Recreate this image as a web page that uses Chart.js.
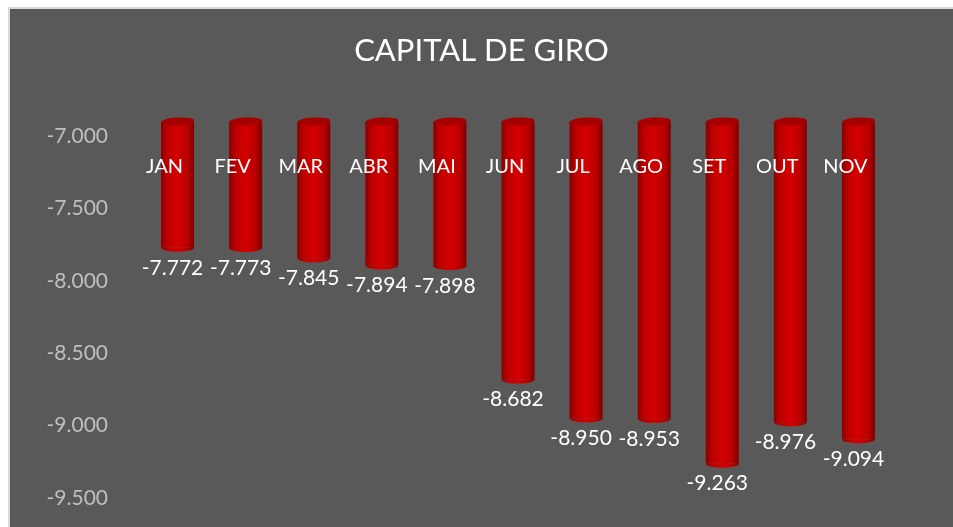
<!DOCTYPE html>
<html>
<head>
<meta charset="utf-8">
<script src="https://cdn.jsdelivr.net/npm/chart.js@4"></script>
<style>
  html, body { margin: 0; padding: 0; background: #ffffff; }
  #quadro {
    position: absolute; left: 8px; top: 7px;
    width: 943px; height: 518px;
    background: #595959;
    border-left: 2px solid #d9d9d9; border-top: 2px solid #d9d9d9;
  }
</style>
</head>
<body>
<div id="quadro"><canvas id="grafico" width="943" height="518"></canvas></div>
<script>
// dados do grafico
const meses = ['JAN', 'FEV', 'MAR', 'ABR', 'MAI', 'JUN', 'JUL', 'AGO', 'SET', 'OUT', 'NOV'];
const capitalGiro = [-7772, -7773, -7845, -7894, -7898, -8682, -8950, -8953, -9263, -8976, -9094];
const ticksEixoY = [-7000, -7500, -8000, -8500, -9000, -9500];
const topoEixo = -6900;
const fundoEixo = -9700;

// formata no padrao brasileiro (-7.772)
function formata(v) {
    let s = Math.abs(v).toString().replace(/\B(?=(\d{3})+(?!\d))/g, '.');
    return (v < 0 ? '-' : '') + s;
}

const fonte = 'Lato, "Open Sans", sans-serif';
const LARGURA_BARRA = 0.485;

// gradiente horizontal para parecer cilindro
function gradienteCilindro(ctx) {
    const chart = ctx.chart;
    const escalaX = chart.scales.x;
    if (!escalaX || ctx.dataIndex === undefined) return '#c00000';
    const cx = escalaX.getPixelForValue(ctx.dataIndex);
    const w = escalaX.width / meses.length * LARGURA_BARRA;
    if (!isFinite(cx) || !isFinite(w) || w <= 0) return '#c00000';
    const g = chart.ctx.createLinearGradient(cx - w / 2, 0, cx + w / 2, 0);
    g.addColorStop(0, '#8a0000');
    g.addColorStop(0.2, '#bd0000');
    g.addColorStop(0.5, '#d40000');
    g.addColorStop(0.8, '#b80000');
    g.addColorStop(1, '#7e0000');
    return g;
}

// tampas do cilindro e rotulos de valor
const pluginCilindro = {
    id: 'cilindro',
    afterDatasetsDraw(chart) {
        const c = chart.ctx;
        const meta = chart.getDatasetMeta(0);
        const escalaY = chart.scales.y;
        meta.data.forEach((barra, i) => {
            const w = barra.width;
            const x = barra.x;
            const yTopo = Math.min(barra.y, barra.base);
            const yFundo = Math.max(barra.y, barra.base);
            // fundo arredondado
            c.save();
            c.beginPath();
            c.ellipse(x, yFundo, w / 2, 4, 0, 0, Math.PI);
            c.fillStyle = gradienteCilindro({ chart: chart, dataIndex: i });
            c.fill();
            // tampa de cima
            c.beginPath();
            c.ellipse(x, yTopo, w / 2, 4, -0.05, 0, Math.PI * 2);
            c.fillStyle = '#a40000';
            c.fill();
            c.restore();

            // rotulo do valor
            c.save();
            c.fillStyle = '#ffffff';
            c.font = '21px ' + fonte;
            c.textAlign = 'center';
            c.textBaseline = 'middle';
            c.fillText(formata(capitalGiro[i]), x - 5, escalaY.getPixelForValue(capitalGiro[i]) + 20);
            c.restore();
        });
    }
};

new Chart(document.getElementById('grafico'), {
    type: 'bar',
    data: {
        labels: meses,
        datasets: [{
            label: 'Capital de giro',
            data: capitalGiro.map(v => [topoEixo, v]),
            backgroundColor: gradienteCilindro,
            borderWidth: 0,
            categoryPercentage: 1,
            barPercentage: LARGURA_BARRA
        }]
    },
    options: {
        responsive: false,
        animation: false,
        layout: { padding: 0 },
        plugins: {
            legend: { display: false },
            tooltip: { enabled: false },
            title: {
                display: true,
                text: 'CAPITAL DE GIRO',
                color: '#ffffff',
                font: { family: fonte, size: 31, weight: 'normal' },
                padding: { top: 23, bottom: 52.3 }
            }
        },
        scales: {
            x: {
                // nomes dos meses ficam dentro da area, perto do topo das barras
                position: { y: -7128 },
                grid: { display: false, drawTicks: false },
                border: { display: false },
                afterFit: (eixo) => { eixo.height = 0; },
                ticks: {
                    z: 1,
                    color: '#ffffff',
                    font: { family: fonte, size: 20 },
                    padding: 0,
                    labelOffset: -13,
                    autoSkip: false,
                    maxRotation: 0
                }
            },
            y: {
                min: fundoEixo,
                max: topoEixo,
                grid: { display: false, drawTicks: false },
                border: { display: false },
                afterBuildTicks: (eixo) => {
                    eixo.ticks = ticksEixoY.map(v => ({ value: v }));
                },
                afterFit: (eixo) => {
                    eixo.width = 133.5;
                    eixo.paddingTop = 0;
                    eixo.paddingBottom = 0;
                },
                ticks: {
                    color: '#bfbfbf',
                    font: { family: fonte, size: 21 },
                    padding: 35.5,
                    callback: (v) => formata(v)
                }
            },
            // eixo vazio a direita so para reservar a margem
            margemDireita: {
                type: 'linear',
                position: 'right',
                display: true,
                grid: { display: false, drawTicks: false },
                border: { display: false },
                ticks: { display: false },
                afterFit: (eixo) => {
                    eixo.width = 60.5;
                    eixo.paddingTop = 0;
                    eixo.paddingBottom = 0;
                }
            }
        }
    },
    plugins: [pluginCilindro]
});
</script>
</body>
</html>
